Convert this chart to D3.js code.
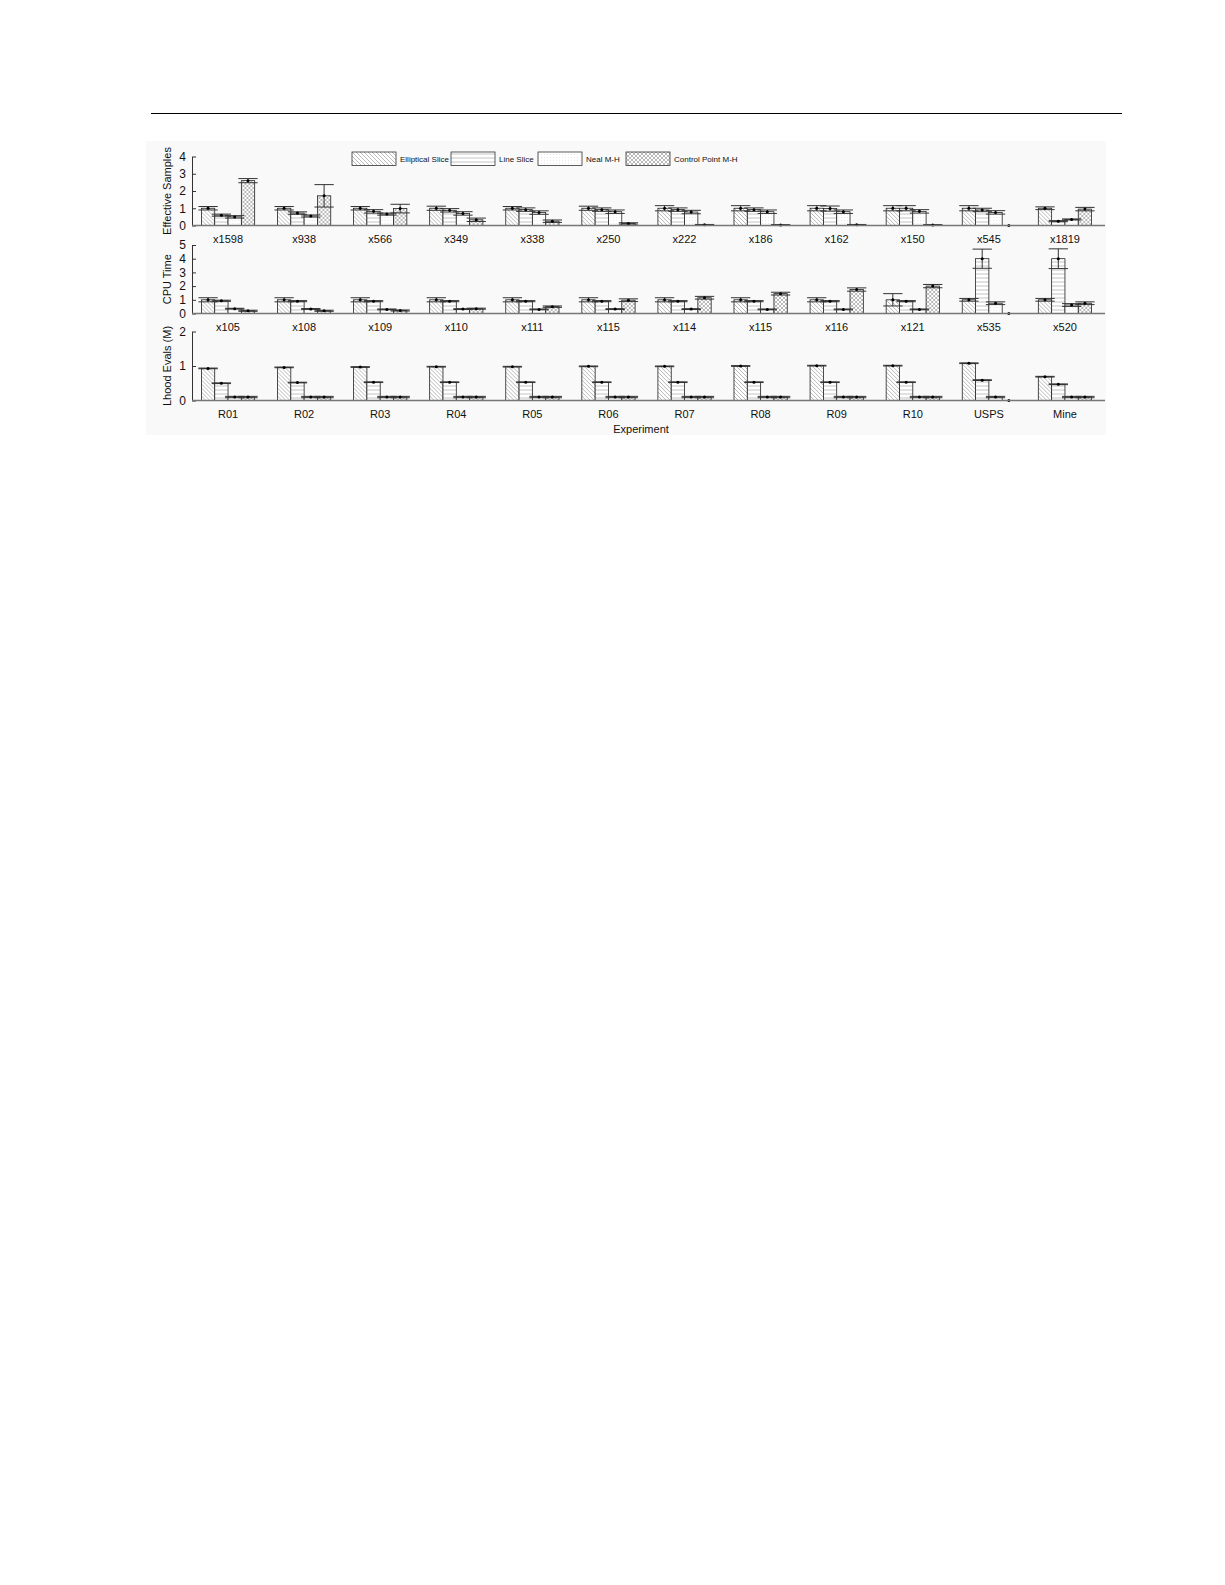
<!DOCTYPE html>
<html>
<head>
<meta charset="utf-8">
<script src="https://cdn.jsdelivr.net/npm/d3@7"></script>
<style>
	body { margin: 0; background: #fff; }
	text { font-family: "Liberation Sans", Arial, sans-serif; fill: #111; }
</style>
</head>
<body>
<div id="chart"></div>
<script>
const methods = ["Elliptical Slice", "Line Slice", "Neal M-H", "Control Point M-H"];
const patternIds = ["diag", "horiz", "dots", "cross"];

// panel 1: effective samples
const esLabels = ["x1598", "x938", "x566", "x349", "x338", "x250", "x222", "x186", "x162", "x150", "x545", "x1819"];
const esMeans = [
	[1.0, 0.6, 0.5, 2.6], [1.0, 0.72, 0.55, 1.72], [1.0, 0.82, 0.66, 0.98], [1.0, 0.88, 0.7, 0.33],
	[1.0, 0.92, 0.75, 0.25], [1.0, 0.92, 0.8, 0.12], [1.0, 0.92, 0.78, 0.04], [1.0, 0.92, 0.8, 0.03],
	[1.0, 0.98, 0.8, 0.04], [1.0, 1.0, 0.82, 0.03], [1.0, 0.9, 0.76, 0.0], [1.0, 0.25, 0.35, 0.95]
];
const esErrs = [
	[0.1, 0.06, 0.07, 0.12], [0.1, 0.07, 0.06, 0.65], [0.1, 0.1, 0.06, 0.25], [0.12, 0.1, 0.1, 0.1],
	[0.1, 0.1, 0.1, 0.07], [0.12, 0.1, 0.1, 0.04], [0.15, 0.1, 0.1, 0.02], [0.15, 0.1, 0.1, 0.02],
	[0.15, 0.15, 0.1, 0.02], [0.15, 0.15, 0.1, 0.02], [0.15, 0.1, 0.1, 0.0], [0.08, 0.03, 0.03, 0.1]
];

// panel 2: cpu time
const cpuLabels = ["x105", "x108", "x109", "x110", "x111", "x115", "x114", "x115", "x116", "x121", "x535", "x520"];
const cpuMeans = [
	[1.0, 0.93, 0.35, 0.2], [1.0, 0.9, 0.33, 0.2], [1.0, 0.9, 0.3, 0.22], [1.0, 0.9, 0.32, 0.35],
	[1.0, 0.9, 0.3, 0.5], [1.0, 0.9, 0.32, 0.97], [1.0, 0.9, 0.32, 1.15], [1.0, 0.9, 0.3, 1.45],
	[1.0, 0.9, 0.3, 1.75], [1.0, 0.9, 0.3, 2.0], [1.0, 4.0, 0.75, 0.0], [1.0, 4.0, 0.62, 0.75]
];
const cpuErrs = [
	[0.15, 0.04, 0.03, 0.04], [0.15, 0.04, 0.03, 0.04], [0.15, 0.04, 0.03, 0.04], [0.15, 0.04, 0.03, 0.04],
	[0.15, 0.04, 0.03, 0.05], [0.15, 0.04, 0.03, 0.1], [0.15, 0.04, 0.03, 0.1], [0.15, 0.04, 0.03, 0.1],
	[0.15, 0.04, 0.03, 0.12], [0.45, 0.04, 0.03, 0.12], [0.1, 0.7, 0.1, 0.0], [0.1, 0.72, 0.1, 0.1]
];

// panel 3: likelihood evaluations (millions)
const lhLabels = ["R01", "R02", "R03", "R04", "R05", "R06", "R07", "R08", "R09", "R10", "USPS", "Mine"];
const lhMeans = [
	[0.93, 0.5, 0.1, 0.1], [0.96, 0.52, 0.1, 0.1], [0.97, 0.53, 0.1, 0.1], [0.98, 0.53, 0.1, 0.1],
	[0.98, 0.53, 0.1, 0.1], [0.99, 0.53, 0.1, 0.1], [0.99, 0.53, 0.1, 0.1], [1.0, 0.53, 0.1, 0.1],
	[1.01, 0.53, 0.1, 0.1], [1.01, 0.53, 0.1, 0.1], [1.08, 0.59, 0.1, 0.0], [0.69, 0.47, 0.1, 0.1]
];
const lhErrs = [
	[0.01, 0.01, 0.02, 0.02], [0.01, 0.01, 0.02, 0.02], [0.01, 0.01, 0.02, 0.02], [0.01, 0.01, 0.02, 0.02],
	[0.01, 0.01, 0.02, 0.02], [0.01, 0.01, 0.02, 0.02], [0.01, 0.01, 0.02, 0.02], [0.01, 0.01, 0.02, 0.02],
	[0.01, 0.01, 0.02, 0.02], [0.01, 0.01, 0.02, 0.02], [0.01, 0.01, 0.02, 0.0], [0.01, 0.01, 0.02, 0.02]
];

const panels = [
	{ title: "Effective Samples", labels: esLabels, means: esMeans, errs: esErrs, max: 4, y0: 225.5, y1: 156.5 },
	{ title: "CPU Time", labels: cpuLabels, means: cpuMeans, errs: cpuErrs, max: 5, y0: 313.5, y1: 245 },
	{ title: "Lhood Evals (M)", labels: lhLabels, means: lhMeans, errs: lhErrs, max: 2, y0: 400.5, y1: 331.5 }
];

let svg = d3.select("#chart").append("svg").attr("width", 1225).attr("height", 1585);

// page rule and faint plot background
svg.append("line").attr("x1", 151).attr("x2", 1122).attr("y1", 113.5).attr("y2", 113.5).attr("stroke", "#000").attr("stroke-width", 1);
svg.append("rect").attr("x", 146).attr("y", 141).attr("width", 960).attr("height", 294).attr("fill", "#f9f9f9");

// hatch patterns
let defs = svg.append("defs");
let p = defs.append("pattern").attr("id", "diag").attr("patternUnits", "userSpaceOnUse").attr("width", 4).attr("height", 4);
p.append("rect").attr("width", 4).attr("height", 4).attr("fill", "#fff");
p.append("path").attr("d", "M-1,-1L5,5M-1,3L1,5M3,-1L5,1").attr("stroke", "#8a8a8a").attr("stroke-width", 0.6);

p = defs.append("pattern").attr("id", "horiz").attr("patternUnits", "userSpaceOnUse").attr("width", 4).attr("height", 4);
p.append("rect").attr("width", 4).attr("height", 4).attr("fill", "#fff");
p.append("path").attr("d", "M0,2H4").attr("stroke", "#9a9a9a").attr("stroke-width", 0.6);

p = defs.append("pattern").attr("id", "dots").attr("patternUnits", "userSpaceOnUse").attr("width", 3).attr("height", 3);
p.append("rect").attr("width", 3).attr("height", 3).attr("fill", "#fff");
p.append("circle").attr("cx", 1.5).attr("cy", 1.5).attr("r", 0.45).attr("fill", "#d0d0d0");

p = defs.append("pattern").attr("id", "cross").attr("patternUnits", "userSpaceOnUse").attr("width", 4).attr("height", 4);
p.append("rect").attr("width", 4).attr("height", 4).attr("fill", "#fff");
p.append("path").attr("d", "M-1,-1L5,5M-1,3L1,5M3,-1L5,1M-1,5L5,-1M-1,1L1,-1M3,5L5,3").attr("stroke", "#8a8a8a").attr("stroke-width", 0.6);

let x = d3.scaleBand().domain(d3.range(12)).range([190, 1103]).paddingInner(0.3).paddingOuter(0.15);
let xInner = d3.scaleBand().domain(d3.range(4)).range([0, x.bandwidth()]);

panels.forEach((panel) => {
	let y = d3.scaleLinear().domain([0, panel.max]).range([panel.y0, panel.y1]);
	let g = svg.append("g");

	// y axis with inward ticks
	let yAxis = d3.axisLeft(y).ticks(panel.max).tickSizeInner(-4).tickSizeOuter(0).tickPadding(6);
	let ya = g.append("g").attr("transform", "translate(192,0)").call(yAxis);
	ya.select(".domain").attr("stroke", "#333");
	ya.selectAll(".tick line").attr("stroke", "#333");
	ya.selectAll("text").attr("font-size", 12).attr("fill", "#111");

	g.append("text")
		.attr("transform", `translate(171,${(panel.y0 + panel.y1) / 2}) rotate(-90)`)
		.attr("text-anchor", "middle")
		.attr("font-size", 11)
		.text(panel.title);

	// x axis with group labels
	let xAxis = d3.axisBottom(x).tickSize(0).tickPadding(10).tickFormat((i) => panel.labels[i]);
	let xa = g.append("g").attr("transform", `translate(0,${panel.y0})`).call(xAxis);
	xa.select(".domain").remove();
	xa.selectAll("text").attr("font-size", 11).attr("fill", "#111");

	let groups = g.selectAll(".grp").data(panel.means).enter().append("g").attr("transform", (d, i) => `translate(${x(i)},0)`);

	groups
		.selectAll("rect")
		.data((d, i) => d.map((v, k) => ({ v: v, k: k, e: panel.errs[i][k] })))
		.enter()
		.append("rect")
		.filter((d) => d.v > 0)
		.attr("x", (d) => xInner(d.k))
		.attr("y", (d) => y(d.v))
		.attr("width", xInner.bandwidth())
		.attr("height", (d) => panel.y0 - y(d.v))
		.attr("fill", (d) => `url(#${patternIds[d.k]})`)
		.attr("stroke", "#222")
		.attr("stroke-width", 0.8);

	// error bars
	let eb = groups
		.selectAll(".err")
		.data((d, i) => d.map((v, k) => ({ v: v, k: k, e: panel.errs[i][k] })))
		.enter()
		.append("g");
	let capHalf = xInner.bandwidth() / 2 + 3;
	eb.filter((d) => d.v > 0)
		.append("path")
		.attr("d", (d) => {
			let cx = xInner(d.k) + xInner.bandwidth() / 2;
			let top = y(d.v + d.e),
				bot = y(Math.max(0, d.v - d.e));
			return `M${cx - capHalf},${top}H${cx + capHalf}M${cx},${top}V${bot}M${cx - capHalf},${bot}H${cx + capHalf}`;
		})
		.attr("fill", "none")
		.attr("stroke", "#333")
		.attr("stroke-width", 1);
	eb.append("circle")
		.attr("cx", (d) => xInner(d.k) + xInner.bandwidth() / 2)
		.attr("cy", (d) => y(d.v))
		.attr("r", 1.5)
		.attr("fill", "#000");

	// baseline
	g.append("line").attr("x1", 192).attr("x2", 1105).attr("y1", panel.y0).attr("y2", panel.y0).attr("stroke", "#777").attr("stroke-width", 1.3);
});

svg.append("text").attr("x", 641).attr("y", 433).attr("text-anchor", "middle").attr("font-size", 11).text("Experiment");

// legend
let legend = svg.append("g").attr("id", "legend");
let legendX = [352, 451, 538, 626];
methods.forEach((m, k) => {
	legend.append("rect").attr("x", legendX[k]).attr("y", 152).attr("width", 44).attr("height", 13.5)
		.attr("fill", `url(#${patternIds[k]})`).attr("stroke", "#333").attr("stroke-width", 0.8);
	legend.append("text").attr("x", legendX[k] + 48).attr("y", 161.8).attr("font-size", 8).text(m);
});
</script>
</body>
</html>
